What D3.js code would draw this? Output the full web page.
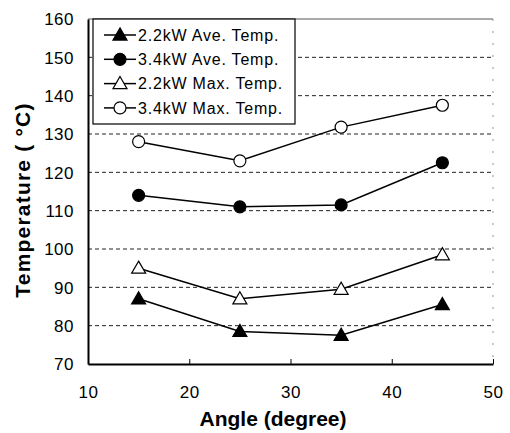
<!DOCTYPE html>
<html>
<head>
<meta charset="utf-8">
<script src="https://cdn.jsdelivr.net/npm/d3@7"></script>
<style>
  body { margin: 0; background: #fff; }
  text { font-family: "Liberation Sans", Arial, sans-serif; fill: #000; }
</style>
</head>
<body>
<div id="chart"></div>
<script>
const angles = [15, 25, 35, 45];
const ave22 = [87, 78.5, 77.5, 85.5];
const ave34 = [114, 111, 111.5, 122.5];
const max22 = [95, 87, 89.5, 98.5];
const max34 = [128, 123, 131.8, 137.5];
const xTicks = [10, 20, 30, 40, 50];
const yTicks = [70, 80, 90, 100, 110, 120, 130, 140, 150, 160];

const series = [
  { name: "2.2kW Ave. Temp.", values: ave22, shape: "tri", filled: true },
  { name: "3.4kW Ave. Temp.", values: ave34, shape: "circ", filled: true },
  { name: "2.2kW Max. Temp.", values: max22, shape: "tri", filled: false },
  { name: "3.4kW Max. Temp.", values: max34, shape: "circ", filled: false }
];

const ancho = 510, alto = 433;
const m = { left: 88, right: 17, top: 19, bottom: 69 };

const svg = d3.select("#chart").append("svg")
  .attr("width", ancho).attr("height", alto);

const x = d3.scaleLinear().domain([10, 50]).range([m.left, ancho - m.right]);
const y = d3.scaleLinear().domain([70, 160]).range([alto - m.bottom, m.top]);

// gridlines
svg.selectAll(".grid")
  .data(yTicks.filter(t => t > 70 && t < 160))
  .enter().append("line")
  .attr("x1", x(10)).attr("x2", x(50))
  .attr("y1", d => y(d)).attr("y2", d => y(d))
  .attr("stroke", "#222").attr("stroke-width", 1)
  .attr("stroke-dasharray", "4,3");

// frame: top and right faint
svg.append("line")
  .attr("x1", x(10)).attr("x2", x(50)).attr("y1", y(160)).attr("y2", y(160))
  .attr("stroke", "#555").attr("stroke-width", 1);
svg.append("line")
  .attr("x1", x(50)).attr("x2", x(50)).attr("y1", y(160)).attr("y2", y(70))
  .attr("stroke", "#999").attr("stroke-width", 1).attr("stroke-dasharray", "2,10");

// axes
const xAxis = svg.append("g")
  .attr("transform", `translate(0,${y(70)})`)
  .call(d3.axisBottom(x).tickValues(xTicks).tickSizeInner(-5).tickSizeOuter(0).tickPadding(22));
const yAxis = svg.append("g")
  .attr("transform", `translate(${x(10)},0)`)
  .call(d3.axisLeft(y).tickValues(yTicks).tickSize(0).tickPadding(14));
[xAxis, yAxis].forEach(a => {
  a.select(".domain").attr("stroke", "#000").attr("stroke-width", 2);
  a.selectAll("text").style("font-size", "17px").style("letter-spacing", "0.5px").attr("fill", "#000");
});
xAxis.selectAll(".tick line").attr("stroke", "#000");
yAxis.selectAll(".tick text").attr("dy", "0.35em");

// axis titles
svg.append("text")
  .attr("x", 273).attr("y", 426)
  .attr("text-anchor", "middle")
  .style("font-size", "21px").style("font-weight", "bold")
  .text("Angle (degree)");
svg.append("text")
  .attr("transform", `translate(30,200) rotate(-90)`)
  .attr("text-anchor", "middle")
  .style("font-size", "21px").style("font-weight", "bold")
  .style("letter-spacing", "1.2px")
  .text("Temperature ( °C)");

function marker(g, s, cx, cy) {
  if (s.shape === "tri") {
    g.append("path")
      .attr("d", d3.symbol().type(d3.symbolTriangle).size(85)())
      .attr("transform", `translate(${cx},${cy + 1})`)
      .attr("fill", s.filled ? "#000" : "#fff")
      .attr("stroke", "#000").attr("stroke-width", 1.2);
  } else {
    g.append("circle")
      .attr("cx", cx).attr("cy", cy).attr("r", 6)
      .attr("fill", s.filled ? "#000" : "#fff")
      .attr("stroke", "#000").attr("stroke-width", 1.2);
  }
}

const line = d3.line().x(d => x(d[0])).y(d => y(d[1]));
series.forEach(s => {
  const pts = angles.map((a, i) => [a, s.values[i]]);
  svg.append("path").attr("d", line(pts))
    .attr("fill", "none").attr("stroke", "#000").attr("stroke-width", 1.5);
  const g = svg.append("g");
  pts.forEach(p => marker(g, s, x(p[0]), y(p[1])));
});

// legend
const lg = svg.append("g").attr("transform", "translate(93,19)");
lg.append("rect").attr("width", 202).attr("height", 105)
  .attr("fill", "#fff").attr("stroke", "#000").attr("stroke-width", 1.2);
series.forEach((s, i) => {
  const ly = 16 + i * 24.3;
  const row = lg.append("g");
  row.append("line").attr("x1", 11).attr("x2", 43).attr("y1", ly).attr("y2", ly)
    .attr("stroke", "#000").attr("stroke-width", 1.5);
  marker(row, s, 27, ly);
  row.append("text").attr("x", 45).attr("y", ly).attr("dy", "0.35em")
    .style("font-size", "16px").style("letter-spacing", "0.8px").text(s.name);
});
</script>
</body>
</html>
